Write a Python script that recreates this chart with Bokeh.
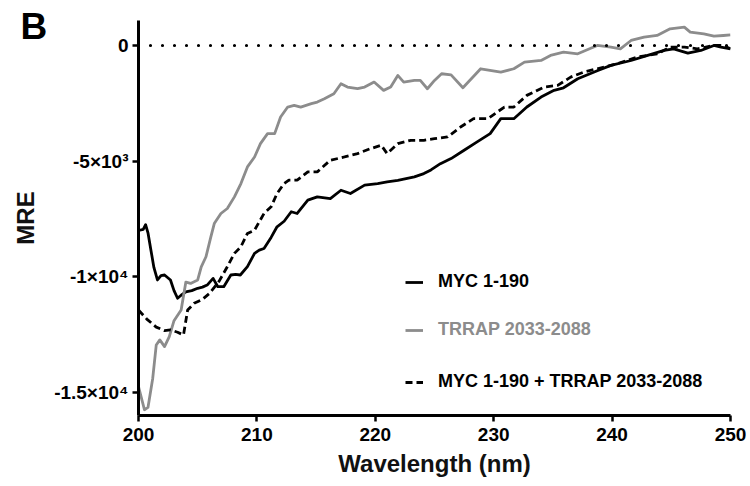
from bokeh.plotting import figure
from bokeh.models import Range1d, FixedTicker, Span, Legend, LegendItem
from bokeh.embed import file_html
from bokeh.resources import INLINE

# ---- data ----
myc_nm = [200.0, 200.4, 200.6, 200.8, 201.05, 201.3, 201.6, 201.9, 202.2, 202.7, 203.0, 203.3,
          203.6, 204.0, 204.5, 205.0, 205.4, 205.8, 206.3, 206.7, 207.2, 207.8, 208.2, 208.6,
          209.2, 209.8, 210.2, 210.6, 211.2, 211.7, 212.3, 212.9, 213.4, 214.3, 215.1, 216.2,
          217.1, 217.9, 219.1, 220.2, 221.0, 221.9, 223.3, 224.1, 224.7, 225.5, 226.4, 227.5,
          228.6, 229.7, 230.6, 231.7, 232.8, 234.0, 235.1, 235.9, 237.1, 238.8, 239.9, 241.6,
          243.0, 244.4, 245.2, 246.4, 247.5, 248.6, 249.2, 250.0]
myc_mre = [-8000, -7950, -7750, -8100, -8850, -9600, -10140, -9950, -9925, -10140, -10600, -10930,
           -10800, -10650, -10600, -10500, -10450, -10360, -10070, -10430, -10430, -9925, -9900, -9925,
           -9565, -8990, -8850, -8780, -8300, -7840, -7600, -7190, -7265, -6690, -6545, -6620,
           -6260, -6400, -6040, -5970, -5900, -5830, -5680, -5540, -5380, -5110, -4890, -4530,
           -4170, -3810, -3165, -3165, -2660, -2230, -1940, -1830, -1440, -1080, -860, -650,
           -430, -215, -145, -330, -215, 0, -70, -145]

trrap_nm = [200.0, 200.5, 200.8, 201.2, 201.5, 201.8, 202.2, 202.6, 203.0, 203.6, 204.0, 204.4,
            205.0, 205.3, 205.7, 206.1, 206.4, 206.96, 207.5, 208.1, 208.65, 209.2, 209.8, 210.3,
            210.9, 211.5, 212.0, 212.6, 213.15, 213.7, 214.6, 215.1, 215.7, 216.5, 217.1, 217.65,
            218.5, 219.1, 219.9, 220.7, 221.3, 221.9, 222.4, 223.3, 223.8, 224.4, 225.0, 225.6,
            226.4, 227.4, 228.9, 230.6, 231.7, 232.6, 234.0, 234.8, 235.9, 237.1, 238.75, 239.9,
            240.7, 241.6, 242.7, 243.8, 244.9, 246.1, 246.6, 247.75, 248.6, 249.4, 250.0]
trrap_mre = [-14750, -15750, -15650, -14400, -12950, -12730, -13020, -12590, -11900, -11440, -10230, -10290,
             -10140, -9570, -9135, -8300, -7700, -7265, -7050, -6546, -5970, -5250, -4820, -4245,
             -3812, -3812, -3093, -2662, -2590, -2662, -2518, -2446, -2302, -2086, -1655, -1798,
             -1870, -1798, -1582, -1942, -1798, -1295, -1582, -1511, -1511, -1870, -1511, -1223,
             -1270, -1827, -1007, -1151, -1007, -719, -647, -432, -288, -360, 0, -72,
             -144, 216, 360, 432, 719, 791, 576, 504, 403, 432, 460]

mix_nm = [200.0, 200.7, 201.5, 202.2, 202.7, 203.3, 203.8, 204.15, 204.7, 205.4, 206.0, 206.8,
          207.5, 208.1, 208.65, 209.2, 209.8, 210.6, 211.2, 211.7, 212.3, 212.7, 213.4, 214.3,
          215.1, 216.2, 217.4, 218.5, 219.6, 220.5, 221.0, 221.9, 223.0, 224.1, 225.0, 226.1,
          227.2, 228.3, 229.5, 230.9, 231.7, 232.8, 234.25, 235.4, 236.5, 237.6, 238.75, 240.4,
          242.1, 243.8, 244.9, 246.1, 247.2, 248.6, 249.4, 250.0]
mix_mre = [-11440, -11830, -12180, -12330, -12300, -12400, -12520, -11440, -11150, -10980, -10720, -10200,
           -9570, -8990, -8700, -8128, -7985, -7265, -6977, -6402, -5970, -5826, -5826, -5467,
           -5467, -4963, -4820, -4676, -4460, -4316, -4676, -4245, -4100, -4100, -4029, -3956,
           -3525, -3165, -3165, -2662, -2662, -2158, -1798, -1726, -1367, -1151, -1007, -791,
           -504, -360, -72, -72, -144, 0, 0, -144]

x_ticks = [200, 210, 220, 230, 240, 250]
y_ticks = [-15000, -10000, -5000, 0]
y_tick_labels = {-15000: "-1.5×10⁴", -10000: "-1×10⁴", -5000: "-5×10³", 0: "0"}

series_names = ["MYC 1-190", "TRRAP 2033-2088", "MYC 1-190 + TRRAP 2033-2088"]
panel_letter = "B"

FONT = "Liberation Sans"
GRAY = "#8c8c8c"

p = figure(width=748, height=484, output_backend="svg", toolbar_location=None,
           x_range=Range1d(200, 250), y_range=Range1d(-16000, 1080),
           min_border_left=138, min_border_right=18, min_border_top=20, min_border_bottom=69)
p.outline_line_color = None
p.xgrid.visible = False
p.ygrid.visible = False

# panel letter as the (side-panel) title, shifted into the top-left corner
p.title.text = panel_letter
p.title.text_font = FONT
p.title.text_font_style = "bold"
p.title.text_font_size = "37px"
p.title.text_color = "black"
p.title.align = "left"
p.title.offset = -118
p.title.standoff = -52
p.title.vertical_align = "bottom"

r_myc = p.line(myc_nm, myc_mre, line_color="black", line_width=2.8, line_join="round")
r_trrap = p.line(trrap_nm, trrap_mre, line_color=GRAY, line_width=2.8, line_join="round")
r_mix = p.line(mix_nm, mix_mre, line_color="black", line_width=2.8, line_dash="7 4")

zero = Span(location=0, dimension="width", line_color="black", line_width=3.2,
            line_dash="0 12", line_cap="round")
p.add_layout(zero)

for ax in (p.xaxis[0], p.yaxis[0]):
    ax.axis_line_width = 3
    ax.axis_line_color = "black"
    ax.major_tick_line_width = 2.5
    ax.major_tick_in = 0
    ax.major_tick_out = 6
    ax.minor_tick_line_color = None
    ax.major_label_text_font = FONT
    ax.major_label_text_font_style = "bold"
    ax.major_label_text_font_size = "19px"
    ax.major_label_text_color = "black"
    ax.axis_label_text_font = FONT
    ax.axis_label_text_font_size = "24px"
    ax.axis_label_text_font_style = "bold"
    ax.axis_label_text_color = "#111111"

p.xaxis.ticker = FixedTicker(ticks=x_ticks)
p.yaxis.ticker = FixedTicker(ticks=y_ticks)
p.yaxis.major_label_overrides = y_tick_labels
p.xaxis.axis_label = "Wavelength (nm)"
p.yaxis.axis_label = "MRE"
p.xaxis.major_label_standoff = 6
p.xaxis.axis_label_standoff = 6
p.yaxis.major_label_standoff = 4
p.yaxis.axis_label_standoff = 12

# legends: one per row so each label can keep its colour
rows = [(r_myc, series_names[0], "black", 123),
        (r_trrap, series_names[1], GRAY, 75),
        (r_mix, series_names[2], "black", 23)]
for rend, name, col, ybot in rows:
    lg = Legend(items=[LegendItem(label=name, renderers=[rend])], location=(267, ybot),
                glyph_width=18, glyph_height=20, label_standoff=15, padding=0, margin=0,
                border_line_color=None, background_fill_alpha=0,
                label_text_font=FONT, label_text_font_style="bold",
                label_text_font_size="18px", label_text_color=col)
    p.add_layout(lg)

open("out.html", "w").write(file_html(p, INLINE))
